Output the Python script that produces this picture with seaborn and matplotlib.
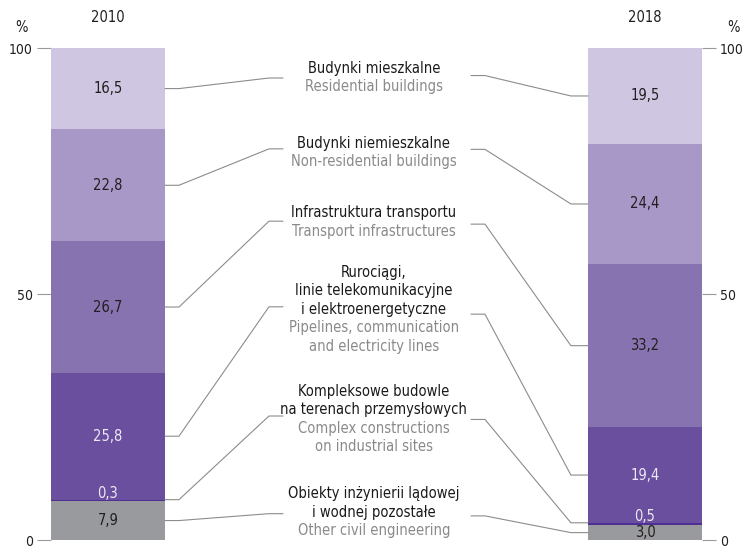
import numpy as np
import matplotlib
matplotlib.use('Agg')
import matplotlib.pyplot as plt
import seaborn as sns

sns.set_style('white')
plt.rcParams['font.family'] = ['DejaVu Sans']
plt.rcParams['font.stretch'] = 'condensed'

years = ['2010', '2018']
# segments from bottom to top
pl_names = [['Obiekty inżynierii lądowej', 'i wodnej pozostałe'],
            ['Kompleksowe budowle', 'na terenach przemysłowych'],
            ['Rurociągi,', 'linie telekomunikacyjne', 'i elektroenergetyczne'],
            ['Infrastruktura transportu'],
            ['Budynki niemieszkalne'],
            ['Budynki mieszkalne']]
en_names = [['Other civil engineering'],
            ['Complex constructions', 'on industrial sites'],
            ['Pipelines, communication', 'and electricity lines'],
            ['Transport infrastructures'],
            ['Non-residential buildings'],
            ['Residential buildings']]
v2010 = [7.9, 0.3, 25.8, 26.7, 22.8, 16.5]
v2018 = [3.0, 0.5, 19.4, 33.2, 24.4, 19.5]

colors = ['#989a9e', '#4f2f93', '#6a4f9e', '#8873b1', '#a898c8', '#cfc6e2']
txt_colors = ['#231f20', '#ece8f4', '#ece8f4', '#231f20', '#231f20', '#231f20']

# layout (data units)
bar_w = 0.2123
text_top = [9.35, 30.2, 54.4, 66.5, 80.6, 95.9]
conn_left = [5.35, 25.2, 47.4, 64.8, 79.5, 93.9]
conn_right = [4.9, 24.5, 45.9, 64.2, 79.4, 94.4]
step = 3.76

fig = plt.figure(figsize=(7.43, 5.48), dpi=100)
ax = fig.add_axes([51 / 743, 8 / 548, 651 / 743, 492 / 548])

vals = np.array([v2010, v2018])
bottoms = np.zeros(2)
for i in range(len(colors)):
    sns.barplot(x=years, y=vals[:, i], order=years, bottom=bottoms, color=colors[i],
                saturation=1, width=bar_w, linewidth=0, ax=ax)
    bottoms = bottoms + vals[:, i]

ax.set_xlim(-0.1061, 1.1061)
ax.set_ylim(0, 100)
ax.set_yticks([0, 50, 100])
ax.set_xticks([])
for s in ax.spines.values():
    s.set_visible(False)
ax.tick_params(axis='y', left=True, right=True, labelleft=True, labelright=True,
               length=10, width=0.8, color='#9a9a9a', labelsize=10, labelcolor='#231f20', pad=3)

# value labels
for j in range(2):
    cum = 0
    for i, v in enumerate(vals[j]):
        if i == 1:
            yl = cum + v + 1.3
        else:
            yl = cum + v / 2
        ax.text(j, yl, f'{v:.1f}'.replace('.', ','), ha='center', va='center',
                fontsize=10.5, color=txt_colors[i])
        cum += v

# connectors
lc = '#8c8c8c'
for j, (side, xs) in enumerate([(conn_left, [0.1061, 0.1322, 0.2998, 0.3259]),
                                (conn_right, [0.894, 0.862, 0.702, 0.676])]):
    cum = np.concatenate([[0], np.cumsum(vals[j])])
    for i in range(len(colors)):
        yb = cum[i + 1] if i == 1 else (cum[i] + cum[i + 1]) / 2
        ax.plot(xs, [yb, yb, side[i], side[i]], color=lc, lw=0.8, clip_on=False)

# category labels
xc = 0.495
for i in range(len(colors)):
    y = text_top[i]
    for line in pl_names[i]:
        ax.text(xc, y, line, ha='center', va='center', fontsize=10.5, color='#1a1a1a')
        y -= step
    for line in en_names[i]:
        ax.text(xc, y, line, ha='center', va='center', fontsize=10.5, color='#8a8a8a')
        y -= step

for j, yr in enumerate(years):
    ax.text(j, 106.3, yr, ha='center', va='center', fontsize=10.5, color='#231f20', clip_on=False)
fig.text(21 / 743, 1 - 27 / 548, '%', ha='center', va='center', fontsize=10.5, color='#231f20')
fig.text(733 / 743, 1 - 27 / 548, '%', ha='center', va='center', fontsize=10.5, color='#231f20')

fig.savefig('out.png', dpi=100)
